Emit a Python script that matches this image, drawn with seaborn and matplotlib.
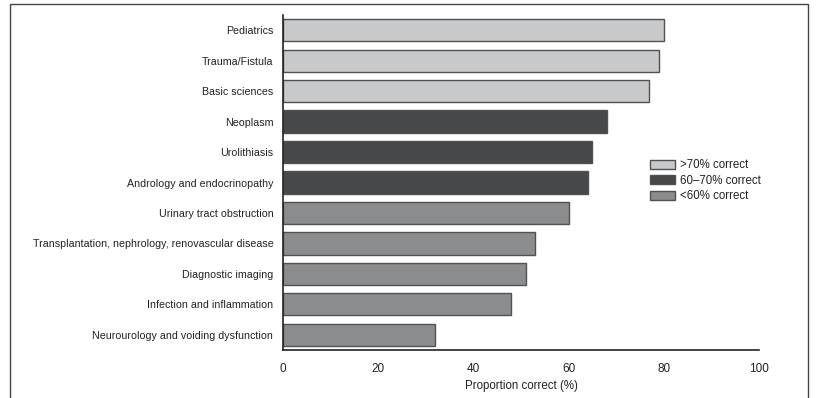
import matplotlib
matplotlib.use("Agg")
import matplotlib.pyplot as plt
import seaborn as sns
import pandas as pd
from matplotlib.patches import Rectangle

# Datos
categorias = [
    "Pediatrics",
    "Trauma/Fistula",
    "Basic sciences",
    "Neoplasm",
    "Urolithiasis",
    "Andrology and endocrinopathy",
    "Urinary tract obstruction",
    "Transplantation, nephrology, renovascular disease",
    "Diagnostic imaging",
    "Infection and inflammation",
    "Neurourology and voiding dysfunction",
]
proporcion = [80, 79, 77, 68, 65, 64, 60, 53, 51, 48, 32]
grupos = [">70% correct"] * 3 + ["60\u201370% correct"] * 3 + ["<60% correct"] * 5
orden_grupos = [">70% correct", "60\u201370% correct", "<60% correct"]
colores = ["#c8c9cb", "#47484a", "#8b8c8e"]
ticks_x = [0, 20, 40, 60, 80, 100]

df = pd.DataFrame({"categoria": categorias, "proporcion": proporcion, "grupo": grupos})

sns.set_style("white")
plt.rcParams["font.family"] = ["Liberation Sans", "DejaVu Sans"]

fig = plt.figure(figsize=(8.16, 3.98), dpi=100)
ax = fig.add_axes([0.3468, 0.1206, 0.5833, 0.8417])

sns.barplot(data=df, y="categoria", x="proporcion", hue="grupo", hue_order=orden_grupos,
            palette=colores, dodge=False, orient="h", width=0.73,
            edgecolor="#505152", linewidth=1.0, ax=ax)

ax.set_xlim(0, 100)
ax.set_ylim(10.5, -0.5)
ax.set_xticks(ticks_x)
ax.set_xlabel("Proportion correct (%)", fontsize=8.3, color="#222222", labelpad=4)
ax.set_ylabel("")
ax.tick_params(axis="x", direction="in", length=6, width=1.2, labelsize=8.5, pad=9,
               color="#222222", labelcolor="#222222")
ax.tick_params(axis="y", length=0, labelsize=7.7, pad=7, labelcolor="#222222")
for s in ["top", "right"]:
    ax.spines[s].set_visible(False)
for s in ["left", "bottom"]:
    ax.spines[s].set_color("#222222")
    ax.spines[s].set_linewidth(1.2)

leg = ax.legend(loc="upper left", bbox_to_anchor=(0.75, 0.6), frameon=False, fontsize=8.3,
                handlelength=2.1, handleheight=0.85, labelspacing=0.3, handletextpad=0.5)
for t in leg.get_texts():
    t.set_color("#222222")

# marco exterior
fig.patches.append(Rectangle((10 / 816, -0.05), 798 / 816, 1.05 - 4 / 398, transform=fig.transFigure,
                             fill=False, edgecolor="#444444", linewidth=1.0))

fig.savefig("out.png", dpi=100)
